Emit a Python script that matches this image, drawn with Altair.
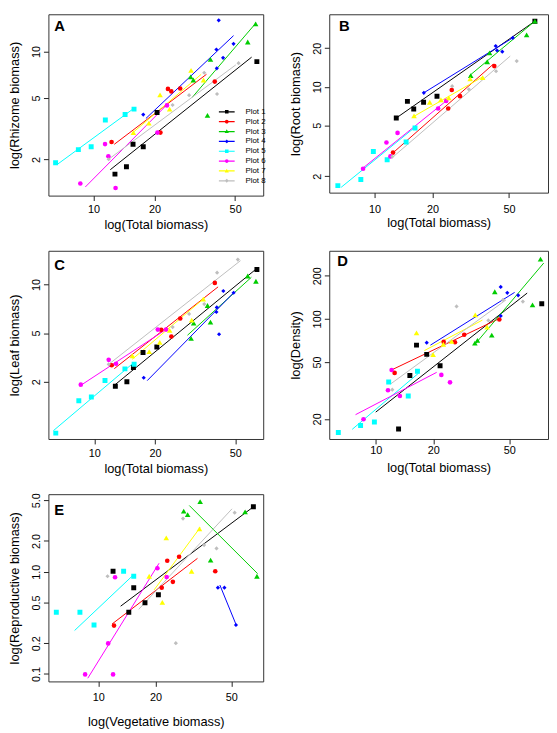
import altair as alt
import pandas as pd

FONT = "Liberation Sans"
PLOTS = ["Plot 1", "Plot 2", "Plot 3", "Plot 4", "Plot 5", "Plot 6", "Plot 7", "Plot 8"]
COLORS = ["#000000", "#FF0000", "#00CD00", "#0000FF", "#00FFFF", "#FF00FF", "#FFFF00", "#BEBEBE"]
X_TICKS = [10, 20, 50]

# marker groups (shape, plot numbers, size)
MARKERS = [("square", [1, 5], 25), ("circle", [2, 6], 22), ("triangle-up", [3, 7], 32), ("diamond", [4, 8], 18)]

# legend symbols: a short line with the plot's marker on it
_LINE = "M-8,-0.6H8V0.6H-8Z"
_SQ = "M-1.8,-1.8H1.8V1.8H-1.8Z"
_CI = "M1.9,0A1.9,1.9,0,1,1,-1.9,0A1.9,1.9,0,1,1,1.9,0Z"
_TR = "M0,-2.3L2.1,1.6H-2.1Z"
_DI = "M0,-2L2,0L0,2L-2,0Z"
LEG_PATHS = [_LINE + _SQ, _LINE + _CI, _LINE + _TR, _LINE + _DI,
             _LINE + _SQ, _LINE + _CI, _LINE + _TR, _LINE + _DI]

# ---------- Panel A: rhizome vs total biomass (plot, x, y) ----------
A_POINTS = [
    (1, 12.76, 1.61), (1, 14.54, 1.80), (1, 15.67, 2.51), (1, 17.60, 2.42), (1, 20.59, 4.03), (1, 64.0, 8.60),
    (2, 12.28, 2.60), (2, 21.39, 2.99), (2, 23.30, 5.73), (2, 24.21, 5.52), (2, 26.78, 5.76), (2, 39.67, 6.39),
    (3, 63.1, 15.07), (3, 57.7, 11.52), (3, 37.77, 8.89), (3, 30.17, 6.85), (3, 31.10, 6.54), (3, 36.51, 3.86),
    (4, 41.5, 15.9), (4, 49.1, 11.2), (4, 40.4, 10.3), (4, 43.6, 9.10), (4, 40.6, 7.78), (4, 17.6, 3.91),
    (5, 6.50, 1.91), (5, 8.42, 2.32), (5, 9.74, 2.42), (5, 11.44, 3.61), (5, 14.32, 3.91), (5, 15.85, 4.24),
    (6, 8.61, 1.40), (6, 11.40, 2.52), (6, 11.84, 2.10), (6, 12.85, 1.31), (6, 20.68, 2.99), (6, 23.04, 4.48),
    (7, 30.30, 7.54), (7, 34.91, 6.54), (7, 21.30, 5.24), (7, 23.75, 4.24), (7, 18.76, 3.44), (7, 15.73, 2.99),
    (8, 35.19, 7.29), (8, 29.63, 5.22), (8, 40.71, 5.31), (8, 24.56, 4.51), (8, 11.88, 2.01), (8, 52.0, 8.40),
]
A_LINES = [
    (1, 12.10, 1.72, 60.3, 9.19), (2, 12.66, 2.51, 36.1, 7.12), (3, 30.7, 5.05, 63.4, 15.3),
    (4, 18.14, 3.69, 49.1, 12.66), (5, 6.62, 1.86, 15.79, 4.28), (6, 9.11, 1.33, 23.04, 4.53),
    (7, 15.50, 2.96, 34.0, 7.12), (8, 11.88, 2.01, 50.4, 8.20),
]

# ---------- Panel B: root vs total biomass ----------
B_POINTS = [
    (1, 12.96, 5.70), (1, 14.81, 7.69), (1, 15.97, 6.71), (1, 17.97, 7.57), (1, 21.10, 8.44), (1, 68.1, 32.5),
    (2, 12.47, 3.06), (2, 24.13, 6.76), (2, 25.18, 9.44), (2, 27.79, 8.44), (2, 41.9, 14.5),
    (3, 68.1, 32.5), (3, 61.7, 25.4), (3, 39.6, 18.36), (3, 38.5, 15.67), (3, 31.6, 12.2),
    (4, 52.3, 24.1), (4, 42.6, 20.8), (4, 43.3, 19.2), (4, 46.1, 18.8), (4, 18.03, 8.97),
    (5, 6.44, 1.69), (5, 8.48, 1.89), (5, 9.85, 3.12), (5, 11.62, 2.69), (5, 14.58, 3.70), (5, 16.22, 4.77),
    (6, 8.71, 2.29), (6, 11.52, 3.67), (6, 12.08, 2.86), (6, 13.16, 4.36), (6, 21.39, 6.76), (6, 23.56, 7.75),
    (7, 16.03, 5.93), (7, 19.35, 7.57), (7, 22.11, 7.92), (7, 24.30, 8.20), (7, 31.39, 11.53), (7, 36.45, 11.79),
    (8, 54.8, 15.86), (8, 42.8, 13.21), (8, 30.9, 9.55), (8, 25.3, 10.10), (8, 12.36, 2.85),
]
B_LINES = [
    (1, 12.96, 5.70, 68.1, 32.5), (2, 12.41, 3.03, 41.4, 15.01), (3, 31.12, 12.2, 68.1, 32.5),
    (4, 18.03, 8.97, 52.3, 24.1), (5, 6.70, 1.64, 16.22, 4.83), (6, 8.58, 2.28, 23.56, 7.75),
    (7, 15.97, 5.86, 36.6, 11.99), (8, 12.36, 2.80, 50.7, 17.36),
]

# ---------- Panel C: leaf vs total biomass ----------
C_POINTS = [
    (1, 12.72, 1.79), (1, 14.51, 2.00), (1, 15.64, 2.72), (1, 17.45, 3.61), (1, 20.43, 3.98), (1, 64.1, 12.14),
    (2, 12.20, 2.85), (2, 21.49, 5.26), (2, 24.12, 4.73), (2, 26.70, 6.24), (2, 39.63, 10.21),
    (3, 57.72, 11.16), (3, 63.39, 10.43), (3, 36.46, 7.52), (3, 37.71, 5.91), (3, 31.12, 5.82), (3, 30.22, 4.59),
    (4, 43.67, 9.17), (4, 49.12, 8.96), (4, 40.53, 7.32), (4, 40.35, 6.86), (4, 41.60, 4.91), (4, 17.59, 2.19),
    (5, 6.44, 0.12), (5, 8.38, 1.18), (5, 9.67, 1.33), (5, 11.30, 2.06), (5, 14.19, 2.65), (5, 15.76, 2.90),
    (6, 8.57, 1.86), (6, 11.79, 3.16), (6, 12.82, 2.93), (6, 20.66, 5.28), (6, 22.70, 5.28),
    (7, 34.73, 8.21), (7, 30.43, 6.09), (7, 23.66, 5.22), (7, 21.13, 4.30), (7, 18.73, 3.67), (7, 15.46, 3.40),
    (8, 51.56, 13.73), (8, 40.67, 11.65), (8, 35.13, 7.67), (8, 29.55, 6.67), (8, 24.48, 5.49), (8, 11.79, 2.90),
]
C_LINES = [
    (1, 12.57, 1.83, 63.17, 12.14), (2, 12.57, 2.66, 41.14, 9.69), (3, 29.00, 4.83, 60.17, 10.98),
    (4, 18.31, 2.05, 49.68, 9.08), (5, 6.27, 0.19, 15.67, 2.99), (6, 8.47, 1.80, 23.13, 5.38),
    (7, 15.41, 3.19, 35.40, 8.39), (8, 11.88, 2.93, 53.15, 13.56),
]

# ---------- Panel D: density vs total biomass ----------
D_POINTS = [
    (1, 13.17, 17.0), (1, 15.09, 40.2), (1, 16.35, 65.5), (1, 18.49, 56.5), (1, 21.72, 47.0), (1, 74.0, 127.4),
    (2, 12.56, 41.9), (2, 22.68, 69.0), (2, 25.99, 68.6), (2, 29.06, 77.4), (2, 44.37, 99.0),
    (3, 72.9, 261.3), (3, 42.0, 154.6), (3, 66.2, 125.4), (3, 40.5, 77.0), (3, 34.08, 70.8), (3, 33.04, 67.6),
    (4, 45.12, 167.2), (4, 48.84, 152.1), (4, 55.7, 146.0), (4, 45.12, 104.9), (4, 18.49, 68.2),
    (5, 6.37, 16.05), (5, 8.33, 18.0), (5, 9.84, 19.0), (5, 11.69, 36.2), (5, 14.80, 28.9), (5, 16.54, 43.0),
    (6, 12.11, 43.9), (6, 11.59, 31.7), (6, 13.38, 28.9), (6, 8.63, 19.9), (6, 22.06, 40.6), (6, 24.48, 36.0),
    (7, 33.2, 106.6), (7, 38.28, 87.7), (7, 16.35, 79.9), (7, 22.59, 66.5), (7, 24.96, 69.7), (7, 19.97, 56.2),
    (8, 58.93, 132.1), (8, 26.5, 122.1), (8, 38.89, 97.5), (8, 12.21, 32.0), (8, 46.38, 135.7),
]
D_LINES = [
    (1, 10.0, 22.3, 62.06, 151.4), (2, 12.21, 44.2, 43.69, 99.5), (3, 33.2, 66.8, 75.8, 245.5),
    (4, 19.33, 65.5, 53.36, 153.1), (5, 7.53, 16.9, 16.75, 41.7), (6, 7.84, 21.4, 20.85, 42.3),
    (7, 17.99, 60.1, 36.19, 98.0), (8, 11.97, 35.1, 48.08, 135.7),
]

# ---------- Panel E: reproductive vs vegetative biomass ----------
E_POINTS = [
    (1, 65.33, 4.31), (1, 11.96, 1.01), (1, 15.36, 0.698), (1, 20.70, 0.595), (1, 17.60, 0.496), (1, 14.47, 0.401),
    (2, 26.59, 1.40), (2, 23.04, 1.28), (2, 41.19, 1.01), (2, 24.66, 0.796), (2, 21.55, 0.698), (2, 12.10, 0.297),
    (3, 34.31, 4.85), (3, 28.12, 3.92), (3, 29.49, 3.61), (3, 59.10, 3.84), (3, 38.94, 1.30), (3, 68.2, 0.902),
    (4, 42.53, 0.698), (4, 46.01, 0.698), (4, 52.92, 0.301),
    (5, 6.02, 0.401), (5, 8.01, 0.401), (5, 9.50, 0.301), (5, 13.59, 1.01), (5, 15.36, 0.902),
    (6, 8.53, 0.099), (6, 11.96, 0.099), (6, 11.27, 0.199), (6, 12.25, 0.882), (6, 20.45, 1.08), (6, 22.88, 0.888),
    (7, 34.02, 2.62), (7, 22.77, 2.14), (7, 30.93, 1.01), (7, 18.52, 0.902), (7, 21.71, 0.502),
    (8, 27.89, 3.31), (8, 52.10, 3.78), (8, 35.99, 1.82), (8, 41.83, 1.69), (8, 11.19, 0.902), (8, 25.56, 0.200),
]
E_LINES = [
    (1, 13.11, 0.460, 65.33, 4.31), (2, 11.82, 0.308, 33.22, 1.35), (3, 30.09, 4.44, 68.77, 0.957),
    (4, 43.55, 0.741, 53.09, 0.301), (5, 7.51, 0.266, 15.36, 0.936), (6, 8.81, 0.0908, 20.87, 1.21),
    (7, 19.66, 0.664, 34.31, 2.70), (8, 16.31, 0.428, 50.45, 4.12),
]

fill_scale = alt.Scale(domain=PLOTS, range=COLORS)


def panel(points, lines, xdom, ydom, yvals, ytitle, xtitle, letter, w, h,
          ytype="log", yconst=None, yfmt="d", xlabpad=3, xtitlepad=4, ldx=6, ldy=5, legend=False):
    rows = []
    for p, x0, y0, x1, y1 in lines:
        rows.append({"plot": PLOTS[p - 1], "x": x0, "y": y0})
        rows.append({"plot": PLOTS[p - 1], "x": x1, "y": y1})
    lns = pd.DataFrame(rows)
    xs = alt.Scale(type="log", domain=xdom, nice=False, zero=False)
    if ytype == "symlog":
        ys = alt.Scale(type="symlog", constant=yconst, domain=ydom, nice=False, zero=False)
    else:
        ys = alt.Scale(type="log", domain=ydom, nice=False, zero=False)
    xax = alt.Axis(values=X_TICKS, title=xtitle, format="d", labelPadding=xlabpad, titlePadding=xtitlepad)
    yax = alt.Axis(values=yvals, title=ytitle, format=yfmt, labelAngle=270, labelAlign="center",
                   labelBaseline="bottom", labelPadding=2, titlePadding=9)
    x = alt.X("x:Q", scale=xs, axis=xax)
    y = alt.Y("y:Q", scale=ys, axis=yax)
    layers = [alt.Chart(lns).mark_line(strokeWidth=1, clip=True).encode(
        x=x, y=y, stroke=alt.Stroke("plot:N", scale=fill_scale, legend=None))]
    for shp, members, sz in MARKERS:
        sub = pd.DataFrame([{"plot": PLOTS[p - 1], "x": xv, "y": yv}
                            for p, xv, yv in points if p in members])
        layers.append(alt.Chart(sub).mark_point(shape=shp, size=sz, filled=True, opacity=1, clip=True).encode(
            x=x, y=y, fill=alt.Fill("plot:N", scale=fill_scale, legend=None)))
    layers.append(alt.Chart(pd.DataFrame({"t": [letter]})).mark_text(
        align="left", baseline="top", fontSize=15, fontWeight="bold", font=FONT, color="#000").encode(
        text="t:N", x=alt.value(ldx), y=alt.value(ldy)))
    if legend:
        leg = alt.Legend(title=None, orient="none", legendX=177, legendY=95, symbolSize=4,
                         symbolStrokeWidth=0, labelFontSize=8, labelOffset=15, rowPadding=2, padding=0,
                         labelFont=FONT, labelColor="#000", symbolOpacity=1)
        layers.append(alt.Chart(pd.DataFrame({"plot": PLOTS})).transform_filter(
            "datum.plot == 'none'").mark_point(filled=True, opacity=1).encode(
            color=alt.Color("plot:N", scale=alt.Scale(domain=PLOTS, range=COLORS), legend=leg),
            shape=alt.Shape("plot:N", scale=alt.Scale(domain=PLOTS, range=LEG_PATHS), legend=leg)))
    return alt.layer(*layers).properties(width=w, height=h)


pA = panel(A_POINTS, A_LINES, [5.99, 68.8], [1.17, 17.4], [2, 5, 10], "log(Rhizome biomass)",
           "log(Total biomass)", "A", 218, 184, ldx=6, ldy=5, legend=True)
pB = panel(B_POINTS, B_LINES, [5.81, 79.7], [1.49, 36.8], [2, 5, 10, 20], "log(Root biomass)",
           "log(Total biomass)", "B", 222, 181, xlabpad=6, xtitlepad=2, ldx=10, ldy=5)
pC = panel(C_POINTS, C_LINES, [5.92, 68.9], [-0.037, 15.31], [2, 5, 10], "log(Leaf biomass)",
           "log(Total biomass)", "C", 218, 191, ytype="symlog", yconst=2.5, xlabpad=4, xtitlepad=4,
           ldx=6, ldy=8)
pD = panel(D_POINTS, D_LINES, [5.71, 79.8], [14.47, 299], [20, 50, 100, 200], "log(Density)",
           "log(Total biomass)", "D", 222, 191, xlabpad=1, xtitlepad=6, ldx=8, ldy=3)
pE = panel(E_POINTS, E_LINES, [5.47, 73.6], [0.0845, 5.73], [0.1, 0.2, 0.5, 1, 2, 5],
           "log(Reproductive biomass)", "log(Vegetative biomass)", "E", 218, 190, yfmt=".1f",
           xlabpad=5, xtitlepad=14, ldx=6, ldy=9)

chart = alt.concat(pA, pB, pC, pD, pE, columns=2, spacing={"row": 56, "column": 67},
                   bounds="flush", align="each").resolve_scale(
    x="independent", y="independent", color="independent", shape="independent").resolve_legend(
    color="independent", shape="independent").properties(padding=0).configure_view(
    stroke="#333333", strokeWidth=1).configure_axis(
    labelFont=FONT, titleFont=FONT, labelFontSize=11, titleFontSize=13, titleFontWeight="normal",
    labelColor="#000", titleColor="#000", tickColor="#222", tickSize=5, tickWidth=1,
    domain=False, grid=False, labelFlush=False, labelOverlap=False)

chart.save("out.html", embed_options={"renderer": "svg", "actions": False})
